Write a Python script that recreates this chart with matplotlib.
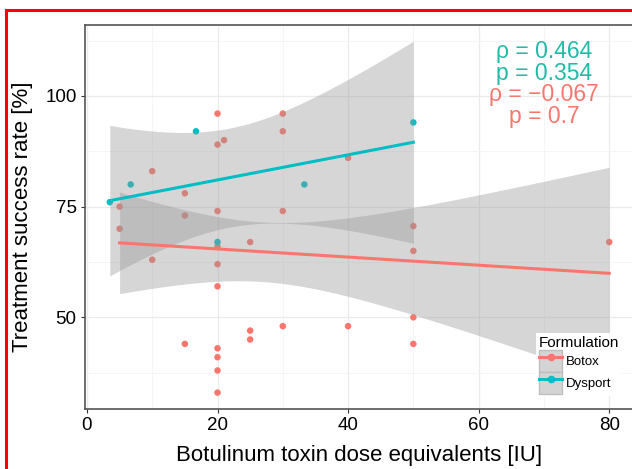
import math
import numpy as np
import matplotlib.pyplot as plt
from matplotlib.lines import Line2D
from matplotlib.patches import Patch

plt.rcParams['font.family'] = ['Liberation Sans', 'DejaVu Sans']

# Botox: dose (IU) and success rate (%)
botox_dose = [20, 30, 30, 20, 21, 10, 40, 15, 5, 15, 20, 30, 5, 20, 25, 10,
              20, 20, 15, 20, 20, 20, 20, 25, 25, 30, 40, 50, 50, 80, 50, 50]
botox_rate = [96, 96, 92, 89, 90, 83, 86, 78, 75, 73, 74, 74, 70, 66, 67, 63,
              62, 57, 44, 43, 41, 38, 33, 47, 45, 48, 48, 70.6, 65, 67, 50, 44]

# Dysport
dysport_dose = [3.5, 6.7, 16.7, 20, 33.3, 50]
dysport_rate = [76, 80, 92, 67, 80, 94]

groups = ['Botox', 'Dysport']
colors = ['#F8766D', '#00BFC4']
text_colors = ['#F8766D', '#1FBBA6']
stats = [('\u03c1 = \u22120.067', 'p = 0.7'), ('\u03c1 = 0.464', 'p = 0.354')]


def t_quantile(q, df):
    # numeric inverse of Student t CDF
    xs = np.linspace(0, 20, 200001)
    c = math.gamma((df + 1) / 2) / (math.sqrt(df * math.pi) * math.gamma(df / 2))
    pdf = c * (1 + xs ** 2 / df) ** (-(df + 1) / 2)
    cdf = 0.5 + np.concatenate([[0], np.cumsum((pdf[1:] + pdf[:-1]) / 2 * np.diff(xs))])
    return float(np.interp(q, cdf, xs))


def smooth(x, y, n=80):
    x = np.asarray(x, float)
    y = np.asarray(y, float)
    b, a = np.polyfit(x, y, 1)
    xs = np.linspace(x.min(), x.max(), n)
    fit = a + b * xs
    resid = y - (a + b * x)
    s = math.sqrt(np.sum(resid ** 2) / (len(x) - 2))
    se = s * np.sqrt(1 / len(x) + (xs - x.mean()) ** 2 / np.sum((x - x.mean()) ** 2))
    t = t_quantile(0.975, len(x) - 2)
    return xs, fit, fit - t * se, fit + t * se


fig = plt.figure(figsize=(6.32, 4.69), dpi=100)
ax = fig.add_axes([85 / 632, 1 - 409 / 469, 549 / 632, 384 / 469])

data = [(botox_dose, botox_rate), (dysport_dose, dysport_rate)]
for (x, y), col in zip(data, colors):
    ax.scatter(x, y, s=22, color=col, edgecolors='none', zorder=2)
for (x, y), col in zip(data, colors):
    xs, fit, lo, hi = smooth(x, y)
    ax.fill_between(xs, lo, hi, color='0.6', alpha=0.4, lw=0, zorder=3)
    ax.plot(xs, fit, color=col, lw=2.2, zorder=4)

ax.text(70, 110, stats[1][0], color=text_colors[1], fontsize=16.5, ha='center', va='center')
ax.text(70, 105, stats[1][1], color=text_colors[1], fontsize=16.5, ha='center', va='center')
ax.text(70, 100.3, stats[0][0], color=text_colors[0], fontsize=16.5, ha='center', va='center')
ax.text(70, 95.3, stats[0][1], color=text_colors[0], fontsize=16.5, ha='center', va='center')

ax.set_xlim(-0.3, 83.8)
ax.set_ylim(29.3, 116)
ax.set_xticks([0, 20, 40, 60, 80])
ax.set_yticks([50, 75, 100])
ax.set_xticks([10, 30, 50, 70], minor=True)
ax.set_yticks([37.5, 62.5, 87.5, 112.5], minor=True)
ax.tick_params(which='minor', length=0)
ax.tick_params(which='major', length=3, width=0.8, color='#333333', labelsize=13.5,
               labelcolor='black', pad=3)
ax.grid(True, which='major', color='#ebebeb', lw=0.9)
ax.grid(True, which='minor', color='#f4f4f4', lw=0.6)
ax.set_axisbelow(True)
for sp in ax.spines.values():
    sp.set_color('#555555')
    sp.set_linewidth(1.2)
ax.set_xlabel('Botulinum toxin dose equivalents [IU]', fontsize=16, labelpad=8)
ax.set_ylabel('Treatment success rate [%]', fontsize=16, labelpad=9)

handles = [(Patch(facecolor='#d4d4d4', edgecolor='#bdbdbd'),
            Line2D([], [], color=c, lw=2.2, marker='o', markersize=4.5))
           for c in colors]
leg = fig.legend(handles, groups, title='Formulation', loc='upper left',
                 bbox_to_anchor=(536 / 632, 1 - 333 / 469), fontsize=9.5,
                 title_fontsize=11, frameon=True, facecolor='white', edgecolor='none',
                 fancybox=False, framealpha=1, handlelength=1.8, handleheight=2.2,
                 handletextpad=0.25, labelspacing=0.0, borderpad=0.2, borderaxespad=0)
leg._legend_box.align = 'left'

# red frame from the screenshot
fig.add_artist(Line2D([6 / 632, 6 / 632], [0, 1 - 10 / 469], color='red', lw=2.2,
                      transform=fig.transFigure))
fig.add_artist(Line2D([6 / 632, 1], [1 - 10 / 469, 1 - 10 / 469], color='red', lw=2.2,
                      transform=fig.transFigure))

fig.savefig('out.png', dpi=100)
